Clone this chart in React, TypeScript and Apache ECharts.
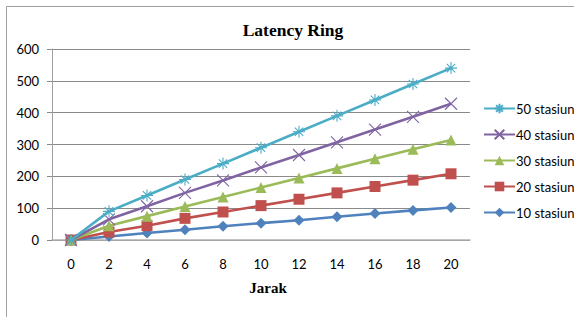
import React, { useEffect, useRef } from "react";
import * as echarts from "echarts";

const categories = ["0", "2", "4", "6", "8", "10", "12", "14", "16", "18", "20"];
const seriesNames = ["50 stasiun", "40 stasiun", "30 stasiun", "20 stasiun", "10 stasiun"];
const s50 = [0, 90, 140, 190, 240, 290, 340, 390, 440, 490, 540];
const s40 = [0, 65, 106, 148, 187, 228, 267, 307, 347, 387, 428];
const s30 = [0, 45, 75, 105, 135, 165, 195, 225, 255, 285, 314];
const s20 = [0, 25, 45, 68, 88, 108, 128, 148, 168, 188, 208];
const s10 = [0, 11, 22, 32, 43, 53, 62, 73, 83, 93, 102];

const colors = ["#4BACC6", "#8064A2", "#9BBB59", "#C0504D", "#4F81BD"];
const asterisk = "path://M5,0L5,10M0,5L10,5M1.5,1.5L8.5,8.5M8.5,1.5L1.5,8.5";
const cross = "path://M0,0L10,10M10,0L0,10";

export default function App() {
  const ref = useRef<HTMLDivElement>(null);
  useEffect(() => {
    if (!ref.current) return;
    const chart = echarts.init(ref.current, undefined, { renderer: "svg" });
    const datas = [s50, s40, s30, s20, s10];
    const symbols = [asterisk, cross, "triangle", "rect", "diamond"];
    const sizes = [12, 12, 11, 11, 11];
    const series = datas.map((d, i) => {
      const open = i < 2;
      return {
        name: seriesNames[i],
        type: "line",
        data: d,
        symbol: symbols[i],
        symbolSize: sizes[i],
        showAllSymbol: true,
        z: 10 - i,
        lineStyle: { color: colors[i], width: 2.6 },
        itemStyle: open
          ? { color: colors[i], borderColor: colors[i], borderWidth: 1.1 }
          : { color: colors[i], borderWidth: 0 },
      };
    });
    chart.setOption({
      animation: false,
      backgroundColor: "#ffffff",
      title: {
        text: "Latency Ring",
        left: 288,
        top: 16,
        textAlign: "center",
        textStyle: { fontFamily: "Liberation Serif", fontWeight: "bold", fontSize: 17.5, color: "#000" },
      },
      graphic: [
        {
          type: "rect",
          shape: { x: 6.5, y: 6.5, width: 620, height: 330 },
          style: { fill: "none", stroke: "#a0a0a0", lineWidth: 1 },
          silent: true,
        },
      ],
      legend: {
        orient: "vertical",
        left: 478,
        top: 97,
        itemWidth: 31,
        itemHeight: 12,
        itemGap: 13,
        data: seriesNames,
        textStyle: { fontFamily: "Lato", fontSize: 13, color: "#000", padding: [0, 0, 0, -4] },
      },
      grid: { left: 52, right: 104, top: 49, bottom: 77, containLabel: false },
      xAxis: {
        type: "category",
        data: categories,
        boundaryGap: true,
        name: "Jarak",
        nameLocation: "middle",
        nameGap: 40,
        nameTextStyle: {
          fontFamily: "Liberation Serif",
          fontWeight: "bold",
          fontSize: 15,
          color: "#000",
          padding: [0, 0, 0, 14],
        },
        axisLine: { lineStyle: { color: "#b0b0b0", width: 1.5 } },
        axisTick: { show: false },
        axisLabel: { fontFamily: "Lato", fontSize: 13, color: "#000", margin: 17 },
      },
      yAxis: {
        type: "value",
        min: 0,
        max: 600,
        interval: 100,
        axisLine: { show: true, lineStyle: { color: "#a0a0a0", width: 1 } },
        axisTick: { show: true, length: 5, lineStyle: { color: "#8a8a8a" } },
        splitLine: { lineStyle: { color: "#8a8a8a", width: 1 } },
        axisLabel: { fontFamily: "Lato", fontSize: 13, color: "#000", margin: 13 },
      },
      series,
    });
    return () => chart.dispose();
  }, []);
  return (
    <div
      ref={ref}
      style={{ position: "fixed", left: 0, top: 0, width: 574, height: 317 }}
    />
  );
}
